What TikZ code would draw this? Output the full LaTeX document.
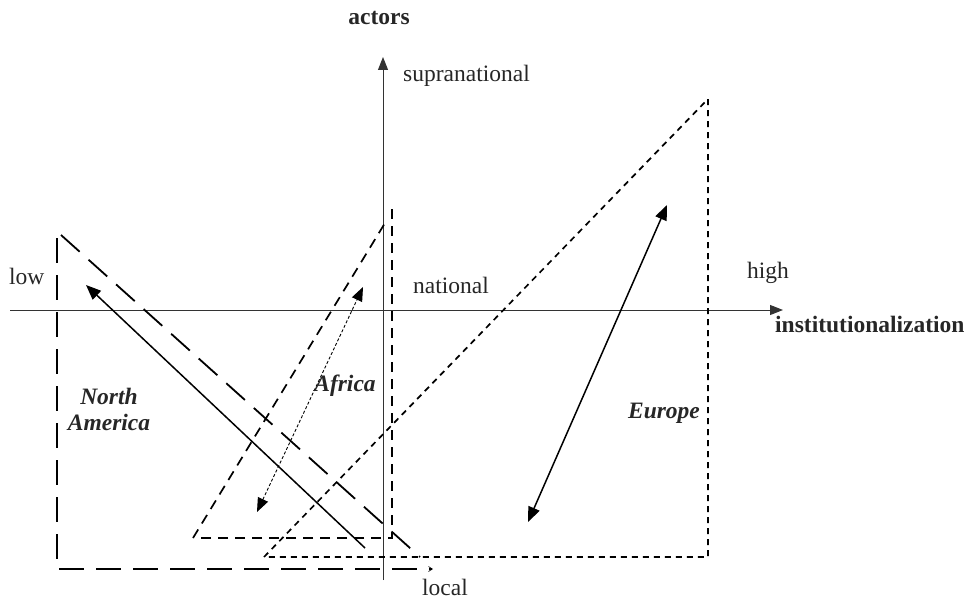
\documentclass[tikz,border=0pt]{standalone}
\usepackage{fontspec}
\setmainfont{Liberation Serif}
\usetikzlibrary{arrows.meta}
\begin{document}
\begin{tikzpicture}[x=1pt,y=-1pt,
  lbl/.style={inner sep=0pt, font=\fontsize{23.5}{26}\selectfont, text=black!85},
  bl/.style={lbl, font=\fontsize{23.5}{26}\selectfont\bfseries},
  bil/.style={lbl, font=\fontsize{23.5}{26}\selectfont\bfseries\itshape},
  axis/.style={line width=1pt, draw=black!80},
  longdash/.style={line width=1.8pt, dash pattern=on 25pt off 12pt},
  middash/.style={line width=1.7pt, dash pattern=on 10pt off 7pt},
  shortdash/.style={line width=1.7pt, dash pattern=on 6pt off 5pt},
  dblarrow/.style={line width=1.5pt, {Triangle[length=15pt,width=12pt]}-{Triangle[length=15pt,width=12pt]}},
  onearrow/.style={line width=1.5pt, -{Triangle[length=15pt,width=12pt]}},
  dotarrow/.style={line width=0.9pt, dash pattern=on 3pt off 2pt, {Triangle[length=14pt,width=11pt]}-{Triangle[length=14pt,width=11pt]}},
  axtip/.style={-{Triangle[length=13pt,width=10pt]}}
]
\useasboundingbox (0,0) rectangle (971,599);

% axes
\coordinate (vb) at (383,580);
\coordinate (vt) at (383,57);
\coordinate (hl) at (10,310);
\coordinate (hr) at (783,310);
\draw[axis, axtip] (vb) -- (vt);
\draw[axis, axtip] (hl) -- (hr);

% North America triangle
\coordinate (na1) at (61,235);
\coordinate (na2) at (420,557);
\coordinate (na3) at (57,238);
\coordinate (na4) at (57,569);
\coordinate (na5) at (433,569);
\draw[longdash] (na1) -- (na2);
\draw[longdash, -{Straight Barb[length=4pt,width=5pt,line width=0.6pt]}] (na3) -- (na4) -- (na5);

% Africa triangle
\coordinate (af1) at (193,538);
\coordinate (af2) at (385,223);
\coordinate (af3) at (392,209);
\coordinate (af4) at (392,538);
\coordinate (af5) at (196,538);
\draw[middash] (af1) -- (af2);
\draw[middash] (af3) -- (af4) -- (af5);

% Europe triangle
\coordinate (eu1) at (264,557);
\coordinate (eu2) at (708,99);
\coordinate (eu3) at (708,557);
\draw[shortdash] (eu1) -- (eu2) -- (eu3) -- cycle;

% arrows
\coordinate (naa) at (365,548);
\coordinate (nab) at (86,285);
\draw[onearrow] (naa) -- (nab);
\coordinate (afa) at (257,512);
\coordinate (afb) at (363,287);
\draw[dotarrow] (afa) -- (afb);
\coordinate (eua) at (528,522);
\coordinate (eub) at (667,205);
\draw[dblarrow] (eua) -- (eub);

% labels
\node[bl, anchor=base] (actors) at (379,25) {actors};
\node[lbl, anchor=base west] (supra) at (403,82) {supranational};
\node[lbl, anchor=base west] (nat) at (413,293) {national};
\node[lbl, anchor=base west] (local) at (422,595) {local};
\node[lbl, anchor=base west] (low) at (9,284) {low};
\node[lbl, anchor=base west] (high) at (747,278) {high};
\node[bl, anchor=base west] (inst) at (775,332) {institutionalization};
\node[bil, anchor=base, align=center] (na) at (109,430) {North\\America};
\node[bil, anchor=base] (af) at (345,391) {Africa};
\node[bil, anchor=base] (eu) at (664,418) {Europe};
\end{tikzpicture}
\end{document}
